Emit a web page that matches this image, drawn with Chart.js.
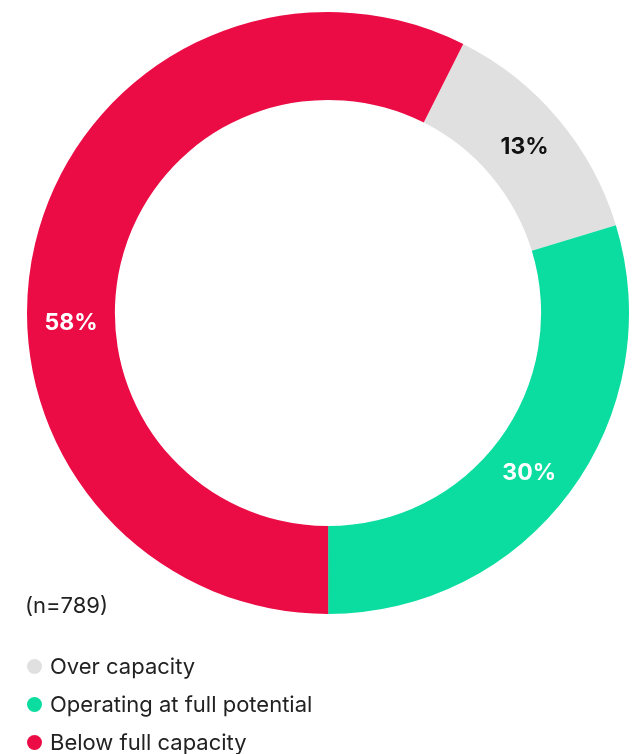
<!DOCTYPE html>
<html>
<head>
<meta charset="utf-8">
<script src="https://cdn.jsdelivr.net/npm/chart.js@4.4.1/dist/chart.umd.min.js"></script>
<style>
  html, body { margin: 0; padding: 0; background: #fff; }
  #wrap { position: relative; width: 632px; height: 754px; overflow: hidden; }
  #chart { position: absolute; left: 0; top: 0; }
  .note {
    position: absolute; left: 25px; top: 592px;
    font: 22px Inter, "Liberation Sans", sans-serif; color: #222;
  }
  #legend {
    position: absolute; left: 27px; top: 647px; margin: 0; padding: 0; list-style: none;
    font: 22px Inter, "Liberation Sans", sans-serif; color: #222;
  }
  #legend li { display: flex; align-items: center; height: 38px; }
  #legend .dot { width: 15px; height: 15px; border-radius: 50%; margin-right: 8px; }
</style>
</head>
<body>
<div id="wrap">
  <canvas id="chart" width="632" height="754"></canvas>
  <div class="note">(n=789)</div>
  <ul id="legend"></ul>
</div>
<script>
// ── DATA ──
const labels = ['Over capacity', 'Operating at full potential', 'Below full capacity'];
const shares = [13, 30, 58];
const colors = ['#e0e0e0', '#0bdca0', '#eb0c45'];
const labelColors = ['#111111', '#ffffff', '#ffffff'];
// angle nudge (degrees) for the value labels
const labelShift = [0, 2, -15.5];

// ── LEGEND ──
const legend = document.getElementById('legend');
labels.forEach((name, i) => {
  const li = document.createElement('li');
  li.innerHTML = `<span class="dot" style="background:${colors[i]}"></span><span>${name}</span>`;
  legend.appendChild(li);
});

// ── VALUE LABELS ──
const sliceLabels = {
  id: 'sliceLabels',
  afterDatasetsDraw(chart) {
    const g = chart.ctx;
    const meta = chart.getDatasetMeta(0);
    g.save();
    g.font = '700 23px Inter, "Liberation Sans", sans-serif';
    g.textAlign = 'center';
    g.textBaseline = 'middle';
    meta.data.forEach((arc, i) => {
      const p = arc.getProps(['x', 'y', 'startAngle', 'endAngle', 'innerRadius', 'outerRadius'], true);
      const a = (p.startAngle + p.endAngle) / 2 + labelShift[i] * Math.PI / 180;
      const r = (p.innerRadius + p.outerRadius) / 2;
      g.fillStyle = labelColors[i];
      g.fillText(shares[i] + '%', p.x + Math.cos(a) * r, p.y + Math.sin(a) * r);
    });
    g.restore();
  }
};

new Chart(document.getElementById('chart'), {
  type: 'doughnut',
  data: {
    labels: labels,
    datasets: [{
      data: shares,
      backgroundColor: colors,
      borderWidth: 0,
      hoverOffset: 0
    }]
  },
  options: {
    responsive: false,
    animation: false,
    cutout: '70.8%',
    rotation: 26.7,
    layout: { padding: { left: 27, right: 3, top: 12, bottom: 140 } },
    plugins: {
      legend: { display: false },
      tooltip: { enabled: false }
    }
  },
  plugins: [sliceLabels]
});
</script>
</body>
</html>
